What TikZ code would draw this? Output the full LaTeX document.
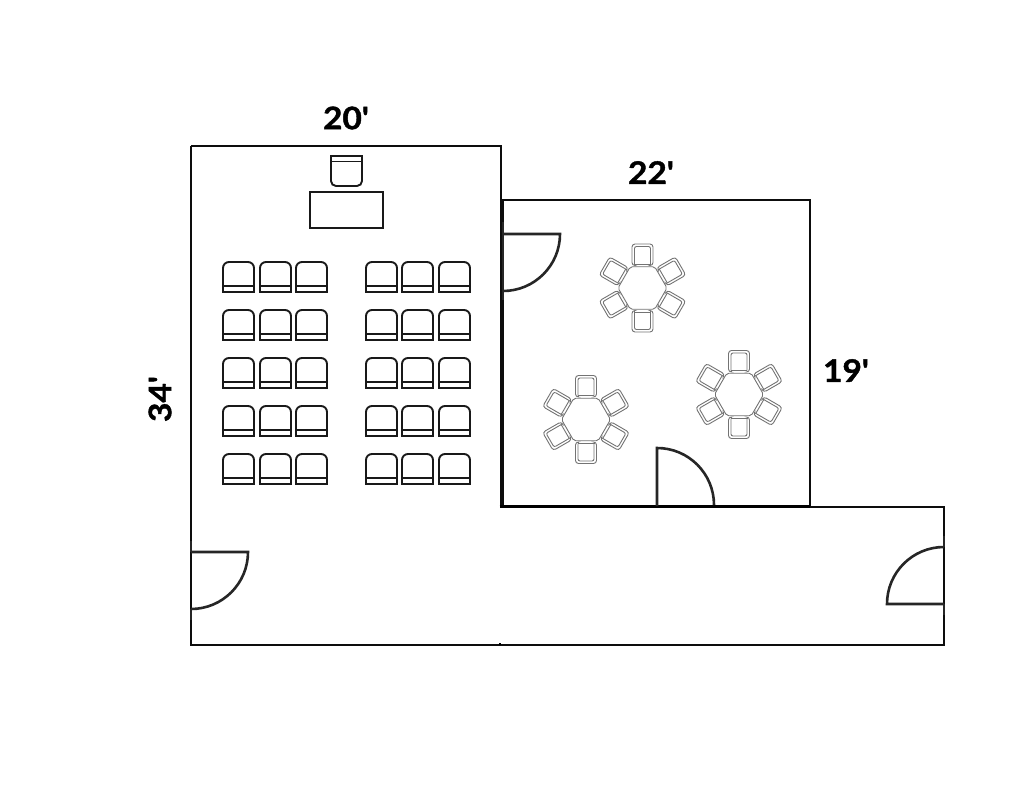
\documentclass[tikz,border=0pt]{standalone}
\usepackage{fontspec}
\newfontfamily\dimfont[Ligatures=TeXOff,BoldFeatures={FakeBold=1.3,FakeStretch=1.08}]{Lato}
\tikzset{
  wall/.style={draw=black!95,line width=1.7pt},
  doorleaf/.style={draw=black!85,line width=2.6pt},
  furn/.style={draw=black!90,line width=1.9pt},
  tablechair/.style={draw=black!55,line width=0.9pt},
  dim/.style={font=\dimfont\fontsize{31}{31}\selectfont\bfseries,inner sep=0pt},
  pics/seat/.style={code={
    \draw[furn] (0,24) -- (0,6) arc[start angle=180,end angle=270,radius=6] -- (25,0) arc[start angle=270,end angle=360,radius=6] -- (31,30) -- (0,30) -- cycle;
    \draw[furn] (0,24) -- (31,24);
  }},
  pics/roundchair/.style={code={
    \draw[tablechair,rounded corners=3pt] (-8,11) -- (-10.5,11) -- (-10.5,-10.5) -- (10.5,-10.5) -- (10.5,11) -- (8,11);
    \draw[tablechair,rounded corners=2pt] (-8,9.5) -- (-8,-8) -- (8,-8) -- (8,9.5);
    \draw[tablechair] (-8,9.5) -- (-8,11) (8,9.5) -- (8,11);
    \draw[tablechair] (-8,9.5) -- (8,9.5);
  }},
  pics/tablegroup/.style={code={
    \draw[tablechair,rounded corners=2pt] (0:24.5) -- (60:24.5) -- (120:24.5) -- (180:24.5) -- (240:24.5) -- (300:24.5) -- cycle;
    \foreach \a in {0,60,120,180,240,300}{
      \begin{scope}[rotate=\a]
        \pic[transform shape] at (0,-33.5) {roundchair};
      \end{scope}
    }
  }}
}
\begin{document}
\begin{tikzpicture}[x=1pt,y=-1pt]
\useasboundingbox (0,0) rectangle (1024,791);
% rooms
\draw[wall] (191,146) -- (501,146) -- (501,508);
\draw[wall] (191,146) -- (191,645) -- (944,645) -- (944,507) -- (501,507);
\draw[wall] (503,200) rectangle (810,506);
\draw[line width=2.4pt] (499.5,506.5) -- (810,506.5);
\draw[line width=2pt] (499,643.5) -- (501,643.5);
% doors
\draw[doorleaf] (503,291) arc[start angle=90,end angle=0,radius=57] -- (503,234);
\draw[doorleaf] (503,222) -- (503,300);
\draw[doorleaf] (657,506) -- (657,448) arc[start angle=-90,end angle=0,radius=57];
\draw[doorleaf] (944,604) -- (887,604) arc[start angle=180,end angle=270,radius=57];
\draw[doorleaf,line width=1.8pt] (944,536) -- (944,547) (944,604) -- (944,615);
\draw[doorleaf] (191,552) -- (248,552) arc[start angle=0,end angle=90,radius=57];
\draw[doorleaf,line width=1.8pt] (191,541) -- (191,552) (191,609) -- (191,620);
% desk and teacher chair
\draw[furn] (310,192) rectangle (383,228);
\draw[furn,rounded corners=5pt] (331,171) -- (331,186) -- (362,186) -- (362,171);
\draw[furn] (331,171) -- (331,156) -- (362,156) -- (362,171) (331,161.5) -- (362,161.5);
% audience seats
\foreach \y in {262,310,358,406,454}
  \foreach \x in {223,260,296,366,402,439}
    \pic at (\x,\y) {seat};
% round tables
\pic at (642.5,288) {tablegroup};
\pic at (586,419.5) {tablegroup};
\pic at (739,394.5) {tablegroup};
% dimensions
\node[dim] (w1) at (346,118) {20'};
\node[dim] (w2) at (651,172.5) {22'};
\node[dim] (h2) at (846,370.5) {19'};
\node[dim,rotate=90] (h1) at (160,399) {34'};
\end{tikzpicture}
\end{document}
